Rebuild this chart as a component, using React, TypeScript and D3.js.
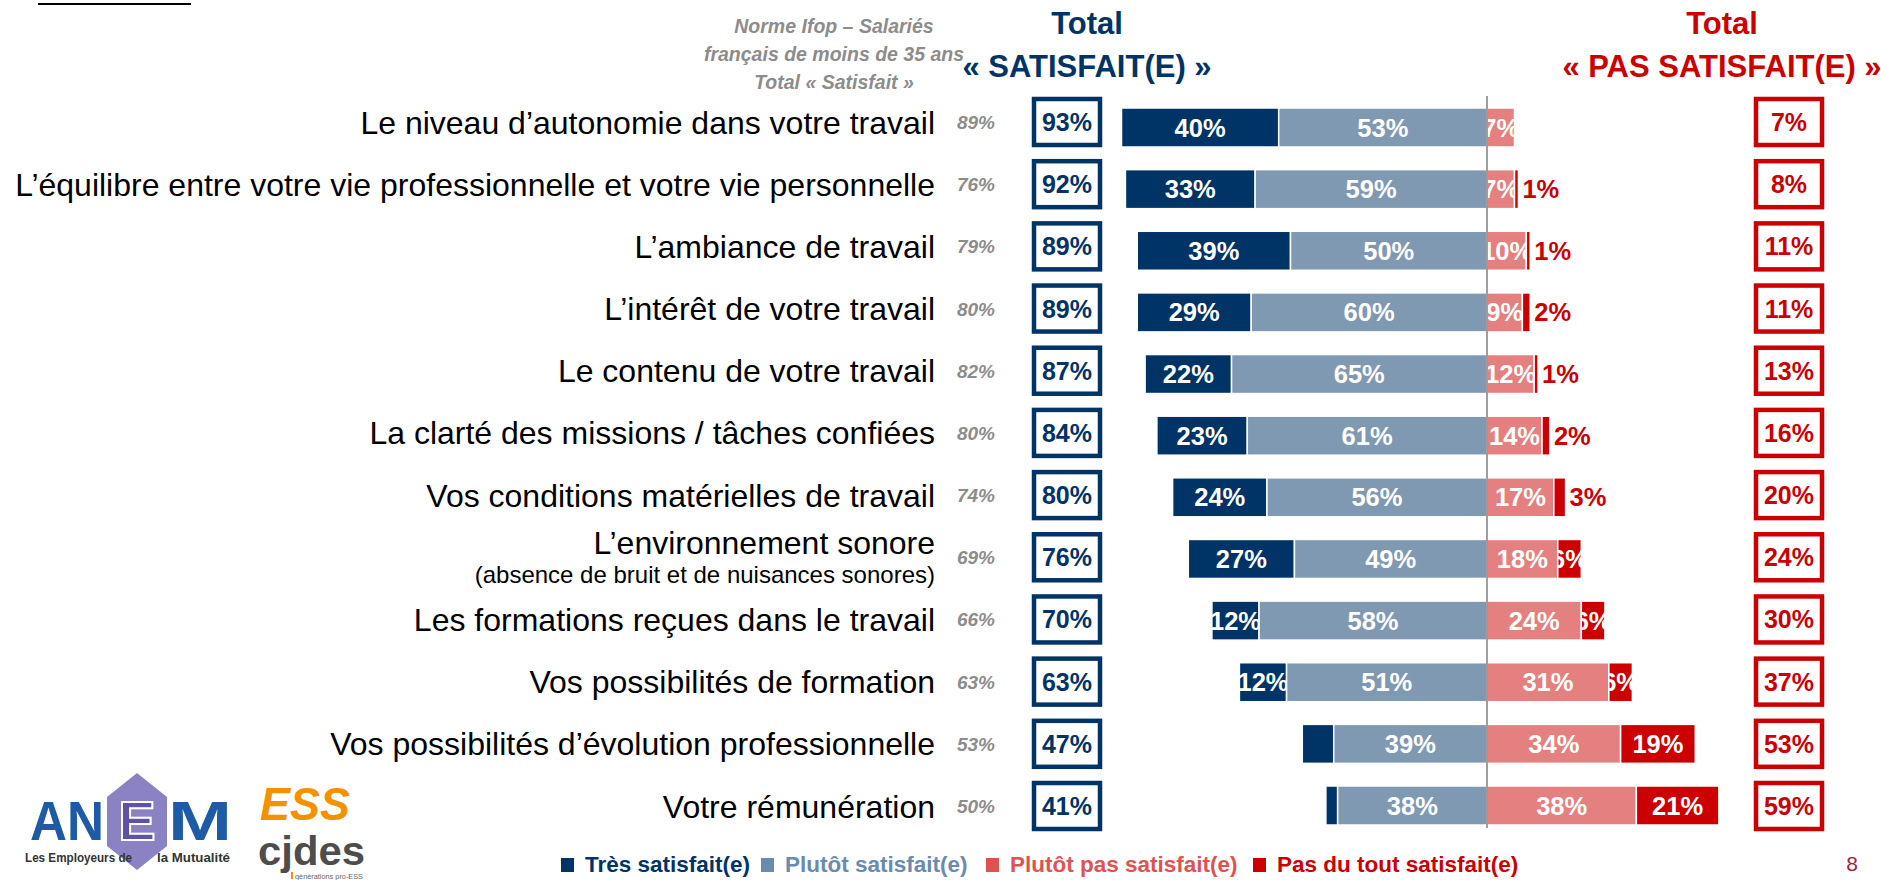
import React from "react";
import * as d3 from "d3";

// ---------- DATA ----------
const categories = [
  "Le niveau d’autonomie dans votre travail",
  "L’équilibre entre votre vie professionnelle et votre vie personnelle",
  "L’ambiance de travail",
  "L’intérêt de votre travail",
  "Le contenu de votre travail",
  "La clarté des missions / tâches confiées",
  "Vos conditions matérielles de travail",
  "L’environnement sonore",
  "Les formations reçues dans le travail",
  "Vos possibilités de formation",
  "Vos possibilités d’évolution professionnelle",
  "Votre rémunération",
];
const subLabels = ["", "", "", "", "", "", "", "(absence de bruit et de nuisances sonores)", "", "", "", ""];
const normeIfop = [89, 76, 79, 80, 82, 80, 74, 69, 66, 63, 53, 50];
const tresSatisfait = [40, 33, 39, 29, 22, 23, 24, 27, 12, 12, 8, 3];
const plutotSatisfait = [53, 59, 50, 60, 65, 61, 56, 49, 58, 51, 39, 38];
const plutotPasSatisfait = [7, 7, 10, 9, 12, 14, 17, 18, 24, 31, 34, 38];
const pasDuToutSatisfait = [0, 1, 1, 2, 1, 2, 3, 6, 6, 6, 19, 21];
const totalSatisfait = [93, 92, 89, 89, 87, 84, 80, 76, 70, 63, 47, 41];
const totalPasSatisfait = [7, 8, 11, 11, 13, 16, 20, 24, 30, 37, 53, 59];
const seriesNames = ["Très satisfait(e)", "Plutôt satisfait(e)", "Plutôt pas satisfait(e)", "Pas du tout satisfait(e)"];
const normeHeader = ["Norme Ifop – Salariés", "français de moins de 35 ans", "Total « Satisfait »"];
const leftHeader = ["Total", "« SATISFAIT(E) »"];
const rightHeader = ["Total", "« PAS SATISFAIT(E) »"];

// ---------- STYLE ----------
const W = 1881;
const H = 880;
const FONT = "'Liberation Sans', Arial, sans-serif";
const C_NAVY = "#003366";
const C_LIGHTBLUE = "#7f99b3";
const C_PINK = "#e58080";
const C_RED = "#cc0000";
const C_GRAY = "#8c8c8c";
const segColors = [C_NAVY, C_LIGHTBLUE, C_PINK, C_RED];
const legendTextColors = [C_NAVY, "#6a8bb0", "#e05252", C_RED];
const legendSquareColors = [C_NAVY, "#6a8bb0", "#e05252", C_RED];
const legendX = [561, 761, 986, 1253];

const pct = (v: number) => `${v}%`;

export default function App() {
  const x = d3.scaleLinear().domain([-100, 100]).range([1094, 1880]);
  const yBar = d3.scalePoint<string>().domain(categories).range([127.5, 805.5]);
  const yText = d3.scalePoint<string>().domain(categories).range([122, 806]);
  const barH = 39;
  const labelSize = 25.5;

  const rows = categories.map((c, i) => {
    const t = tresSatisfait[i];
    const p = plutotSatisfait[i];
    const pp = plutotPasSatisfait[i];
    const pd = pasDuToutSatisfait[i];
    const segs = [
      { k: 0, v: t, x0: x(-(t + p)), x1: x(-p), show: t >= 10 },
      { k: 1, v: p, x0: x(-p), x1: x(0), show: p > 0 },
      { k: 2, v: pp, x0: x(0), x1: x(pp), show: pp > 0 },
      { k: 3, v: pd, x0: x(pp), x1: x(pp + pd), show: pd >= 5 },
    ];
    return { c, i, segs, pd, outsideX: x(pp + pd) };
  });

  return (
    <svg width={W} height={H} style={{ position: "absolute", left: 0, top: 0, background: "#fff" }} fontFamily={FONT}>
      <rect x={0} y={0} width={W} height={H} fill="#fff" />
      {/* top cut-off title underline */}
      <line x1={38} x2={191} y1={4} y2={4} stroke="#000" strokeWidth={2} />

      {/* Norme header */}
      {normeHeader.map((t, j) => (
        <text key={j} x={834} y={33 + j * 28} textAnchor="middle" fontSize={19.5} fontWeight="bold" fontStyle="italic" fill={C_GRAY}>
          {t}
        </text>
      ))}
      {leftHeader.map((t, j) => (
        <text key={j} x={1087} y={34 + j * 43} textAnchor="middle" fontSize={31} fontWeight="bold" fill={C_NAVY}>
          {t}
        </text>
      ))}
      {rightHeader.map((t, j) => (
        <text key={j} x={1722} y={34 + j * 43} textAnchor="middle" fontSize={31} fontWeight="bold" fill={C_RED}>
          {t}
        </text>
      ))}

      <defs>
        {rows.map((r) =>
          r.segs.map((s) => (
            <clipPath key={`${r.i}-${s.k}`} id={`clip-${r.i}-${s.k}`}>
              <rect x={s.x0} y={(yBar(r.c) as number) - barH / 2} width={Math.max(0, s.x1 - s.x0)} height={barH} />
            </clipPath>
          ))
        )}
      </defs>

      {rows.map((r) => {
        const yc = yBar(r.c) as number;
        const yt = yText(r.c) as number;
        const hasSub = subLabels[r.i] !== "";
        return (
          <g key={r.i}>
            {/* category label */}
            {hasSub ? (
              <>
                <text x={935} y={yt - 3} textAnchor="end" fontSize={32} fill="#000">
                  {r.c}
                </text>
                <text x={935} y={yt + 26} textAnchor="end" fontSize={24} fill="#000">
                  {subLabels[r.i]}
                </text>
              </>
            ) : (
              <text x={935} y={yt + 11.5} textAnchor="end" fontSize={32} fill="#000">
                {r.c}
              </text>
            )}
            {/* norme */}
            <text x={976} y={yt + 7} textAnchor="middle" fontSize={19} fontWeight="bold" fontStyle="italic" fill={C_GRAY}>
              {pct(normeIfop[r.i])}
            </text>
            {/* total satisfait box */}
            <rect x={1067 - 33} y={yt - 23} width={66} height={46} fill="#fff" stroke={C_NAVY} strokeWidth={4.5} />
            <text x={1067} y={yt + 9} textAnchor="middle" fontSize={25} fontWeight="bold" fill={C_NAVY}>
              {pct(totalSatisfait[r.i])}
            </text>
            {/* total pas satisfait box */}
            <rect x={1789 - 33} y={yt - 23} width={66} height={46} fill="#fff" stroke={C_RED} strokeWidth={4.5} />
            <text x={1789} y={yt + 9} textAnchor="middle" fontSize={25} fontWeight="bold" fill={C_RED}>
              {pct(totalPasSatisfait[r.i])}
            </text>
            {/* bars */}
            {r.segs.map((s) =>
              s.v > 0 ? (
                <rect key={s.k} x={s.x0} y={yc - barH / 2} width={s.x1 - s.x0} height={barH} fill={segColors[s.k]} stroke="#fff" strokeWidth={1.5} />
              ) : null
            )}
            {r.segs.map((s) =>
              s.v > 0 && s.show ? (
                <text
                  key={`t${s.k}`}
                  x={(s.x0 + s.x1) / 2}
                  y={yc + 9}
                  textAnchor="middle"
                  fontSize={labelSize}
                  fontWeight="bold"
                  fill="#fff"
                  clipPath={`url(#clip-${r.i}-${s.k})`}
                >
                  {pct(s.v)}
                </text>
              ) : null
            )}
            {r.pd > 0 && r.pd < 5 ? (
              <text x={r.outsideX + 4} y={yc + 9} fontSize={labelSize} fontWeight="bold" fill={C_RED}>
                {pct(r.pd)}
              </text>
            ) : null}
          </g>
        );
      })}

      {/* center axis */}
      <line x1={x(0)} x2={x(0)} y1={96} y2={828} stroke="#7f7f7f" strokeWidth={1.5} />

      {/* legend */}
      {seriesNames.map((n, k) => (
        <g key={n}>
          <rect x={legendX[k]} y={858} width={13} height={14} fill={legendSquareColors[k]} />
          <text x={legendX[k] + 24} y={872} fontSize={22.5} fontWeight="bold" fill={legendTextColors[k]}>
            {n}
          </text>
        </g>
      ))}
      <text x={1852} y={871} fontSize={21} fill="#9c2542" textAnchor="middle">8</text>

      {/* ANEM logo */}
      <g>
        <polygon points="137,773 167,797 167,846 137,870 107,846 107,797" fill="#8a82c2" />
        <text x={30} y={840} fontSize={56} fontWeight="bold" fill="#1d5ba6" textLength={74} lengthAdjust="spacingAndGlyphs">AN</text>
        <text x={137} y={840} fontSize={56} fontWeight="bold" fill="#5f52a6" stroke="#fff" strokeWidth={2} textAnchor="middle">E</text>
        <text x={168} y={840} fontSize={56} fontWeight="bold" fill="#1d5ba6" textLength={64} lengthAdjust="spacingAndGlyphs">M</text>
        <text x={25} y={862} fontSize={12.5} fontWeight="bold" fill="#333" textLength={107} lengthAdjust="spacingAndGlyphs">Les Employeurs de</text>
        <text x={157} y={862} fontSize={12.5} fontWeight="bold" fill="#333" textLength={73} lengthAdjust="spacingAndGlyphs">la Mutualité</text>
      </g>
      {/* cjdes logo */}
      <g>
        <text x={260} y={820} fontSize={46} fontWeight="bold" fontStyle="italic" fill="#f39200" textLength={90} lengthAdjust="spacingAndGlyphs">ESS</text>
        <text x={258} y={865} fontSize={40} fontWeight="bold" fill="#4d4d4d" textLength={107} lengthAdjust="spacingAndGlyphs">cjdes</text>
        <rect x={291} y={872} width={2} height={7} fill="#f39200" />
        <text x={295} y={879} fontSize={7} fill="#666" textLength={68} lengthAdjust="spacingAndGlyphs">générations pro-ESS</text>
      </g>
    </svg>
  );
}
